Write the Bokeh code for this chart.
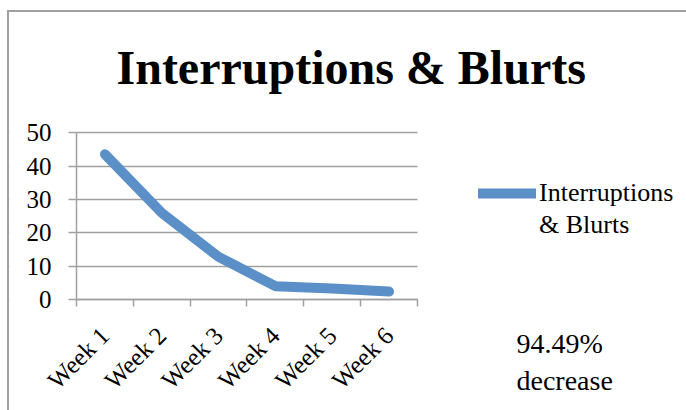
import math
from bokeh.plotting import figure
from bokeh.models import (FixedTicker, Legend, LegendItem, Label, Range1d,
                          BoxAnnotation)
from bokeh.embed import file_html
from bokeh.resources import INLINE

# ---- data ----
weeks = ["Week 1", "Week 2", "Week 3", "Week 4", "Week 5", "Week 6"]
values = [43.6, 26.0, 12.8, 4.0, 3.3, 2.4]
y_ticks = [0, 10, 20, 30, 40, 50]
title_text = "Interruptions & Blurts"
legend_lines = ["Interruptions", "& Blurts"]
note_text = "94.49%\ndecrease"

FONT = "Liberation Serif"
GRID = "#A0A0A0"
BLUE = "#5B8FC8"

xs = [i + 0.5 for i in range(len(weeks))]

# The frame covers the whole canvas below the title so that the legend and the
# note are not clipped; both value axes sit at fixed data locations and are
# bounded to the data area.
p = figure(frame_width=677, frame_height=287, output_backend="svg",
           toolbar_location=None,
           x_range=Range1d(-1.179, 10.734), y_range=Range1d(-33.31, 52.82),
           min_border_left=0, min_border_right=0,
           min_border_top=0, min_border_bottom=0,
           title=title_text,
           styles={"border-top": "2px solid #A0A0A0",
                   "border-left": "2px solid #A0A0A0",
                   "margin-top": "10px",
                   "margin-left": "7px"})
p.outline_line_color = None
p.background_fill_color = "white"
p.border_fill_color = "white"

p.title.text_font = FONT
p.title.text_font_size = "48px"
p.title.text_font_style = "bold"
p.title.text_color = "black"
p.title.align = "left"
p.title.offset = 107
p.title.vertical_align = "top"
p.title.standoff = 56

# x axis: labels at centres, ticks at category boundaries, drawn at y = 0
p.xaxis.fixed_location = 0
p.xaxis.bounds = (0, len(weeks))
p.xaxis.ticker = FixedTicker(ticks=xs, minor_ticks=list(range(len(weeks) + 1)))
p.xaxis.major_label_overrides = {x: w for x, w in zip(xs, weeks)}
p.xaxis.major_tick_line_color = None
p.xaxis.minor_tick_line_color = GRID
p.xaxis.minor_tick_line_width = 1.5
p.xaxis.minor_tick_in = 0
p.xaxis.minor_tick_out = 7
p.xaxis.axis_line_color = GRID
p.xaxis.axis_line_width = 1.5
p.xaxis.major_label_orientation = math.pi / 4
p.xaxis.major_label_text_font = FONT
p.xaxis.major_label_text_font_size = "25px"
p.xaxis.major_label_text_color = "black"
p.xaxis.major_label_standoff = 25

# y axis, drawn at x = 0
p.yaxis.fixed_location = 0
p.yaxis.bounds = (y_ticks[0], y_ticks[-1])
p.yaxis.ticker = FixedTicker(ticks=y_ticks)
p.yaxis.major_tick_line_color = GRID
p.yaxis.major_tick_line_width = 1.5
p.yaxis.major_tick_in = 0
p.yaxis.major_tick_out = 8
p.yaxis.minor_tick_line_color = None
p.yaxis.axis_line_color = GRID
p.yaxis.axis_line_width = 1.5
p.yaxis.major_label_text_font = FONT
p.yaxis.major_label_text_font_size = "25px"
p.yaxis.major_label_text_color = "black"
p.yaxis.major_label_standoff = 17

p.xgrid.visible = False
p.ygrid.ticker = FixedTicker(ticks=y_ticks)
p.ygrid.grid_line_color = GRID
p.ygrid.grid_line_width = 1.5

# blank out the grid outside the category area
p.add_layout(BoxAnnotation(right=0, fill_color="white", fill_alpha=1,
                           line_color=None, level="underlay"))
p.add_layout(BoxAnnotation(left=len(weeks), fill_color="white", fill_alpha=1,
                           line_color=None, level="underlay"))

r = p.line(xs, values, line_color=BLUE, line_width=10,
           line_cap="round", line_join="round")

legend = Legend(items=[LegendItem(label=legend_lines[0], renderers=[r]),
                       LegendItem(label=legend_lines[1], renderers=[])],
                location=(469, 170), glyph_width=58, glyph_height=20,
                label_standoff=3, padding=0, margin=0, spacing=2,
                border_line_color=None, background_fill_alpha=0,
                label_text_font=FONT, label_text_font_size="26px",
                label_text_color="black")
p.add_layout(legend)

note = Label(x=507, y=83, x_units="screen", y_units="screen", text=note_text,
             text_font=FONT, text_font_size="28px", text_color="black",
             text_align="left", text_baseline="top")
p.add_layout(note)

open("out.html", "w").write(file_html(p, INLINE))
